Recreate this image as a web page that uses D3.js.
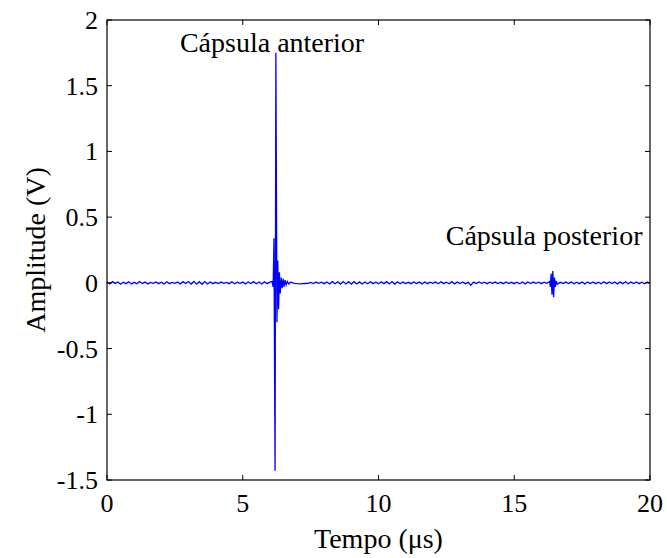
<!DOCTYPE html>
<html>
<head>
<meta charset="utf-8"/>
<script src="https://d3js.org/d3.v7.min.js"></script>
<style type="text/css">
body { margin: 0; background: #fff; }
text { font-family: "Liberation Serif", "Times New Roman", serif; fill: #000; }
.axis-box { fill: none; stroke: #000; stroke-width: 1.2; }
.tick-mark { stroke: #000; stroke-width: 1; }
.signal { fill: none; stroke: #0000ff; stroke-width: 1.3; }
</style>
</head>
<body>
<script>
// chart data
var xTicks = [0, 5, 10, 15, 20];
var xTickLabels = ["0", "5", "10", "15", "20"];
var yTicks = [-1.5, -1, -0.5, 0, 0.5, 1, 1.5, 2];
var yTickLabels = ["-1.5", "-1", "-0.5", "0", "0.5", "1", "1.5", "2"];

// baseline noise, one value every 0.1 us from 0 to 20
var baseStep = 0.1;
var baseNoise = [
  0.006,-0.008,0.009,-0.004,0.007,-0.010,0.005,-0.006,0.008,-0.009,
  0.004,-0.007,0.010,-0.005,0.006,-0.008,0.003,-0.004,0.007,-0.006,
  0.005,-0.009,0.008,-0.006,0.004,-0.003,0.006,-0.008,0.009,-0.005,
  0.010,-0.009,0.011,-0.010,0.009,-0.011,0.010,-0.008,0.007,-0.006,
  0.004,-0.005,0.006,-0.004,0.003,-0.006,0.008,-0.007,0.005,-0.004,
  0.006,-0.008,0.007,-0.005,0.009,-0.007,0.006,-0.009,0.008,-0.006,
  0.005,-0.004,0.004,-0.005,0.006,-0.004,0.005,-0.006,0.004,-0.004,
  -0.006,-0.007,-0.006,-0.005,-0.004,0.003,-0.005,0.006,-0.004,0.005,
  -0.006,0.007,-0.008,0.009,-0.007,0.008,-0.009,0.010,-0.008,0.009,
  -0.010,0.009,-0.008,0.007,-0.009,0.006,-0.007,0.008,-0.006,0.005,
  -0.007,0.008,-0.006,0.009,-0.008,0.010,-0.009,0.008,-0.007,0.006,
  -0.005,0.004,-0.006,0.007,-0.005,0.006,-0.008,0.007,-0.006,0.005,
  -0.004,0.006,-0.007,0.008,-0.006,0.005,-0.007,0.009,-0.008,0.006,
  -0.005,0.007,-0.006,0.004,-0.018,0.006,-0.005,0.007,-0.004,0.005,
  -0.006,0.005,-0.004,0.006,-0.005,0.004,-0.006,0.007,-0.005,0.004,
  -0.006,0.005,-0.007,0.006,-0.008,0.007,-0.005,0.006,-0.004,0.005,
  -0.006,0.005,-0.004,0.003,-0.004,0.005,-0.006,0.004,-0.005,0.006,
  -0.005,0.006,-0.007,0.005,-0.006,0.007,-0.008,0.006,-0.005,0.007,
  -0.006,0.005,-0.007,0.008,-0.006,0.007,-0.005,0.006,-0.008,0.007,
  -0.006,0.008,-0.007,0.006,-0.005,0.007,-0.006,0.005,-0.007,0.006,
  -0.004
];

// anterior capsule echo
var echo1Time = [6.08, 6.12, 6.15, 6.19, 6.22, 6.26, 6.29, 6.32, 6.35, 6.38,
                 6.42, 6.45, 6.49, 6.52, 6.56, 6.60, 6.64, 6.70, 6.75];
var echo1Amp  = [0.01, -0.03, 0.34, -1.43, 1.75, -0.3, 0.17, -0.2, 0.08, -0.08,
                 0.04, -0.04, 0.03, -0.03, 0.02, -0.015, 0.01, -0.01, 0.005];

// posterior capsule echo
var echo2Time = [16.30, 16.33, 16.36, 16.39, 16.42, 16.45, 16.48, 16.51, 16.54, 16.58];
var echo2Amp  = [0.01, -0.03, 0.07, -0.09, 0.09, -0.11, 0.04, -0.03, 0.015, -0.01];

var annotations = [
  {text: "Cápsula anterior", t: 6.08, v: 1.756},
  {text: "Cápsula posterior", t: 16.1, v: 0.288}
];

var width = 667, height = 558;
var margin = {top: 20, right: 17, bottom: 78, left: 107};
var fontSize = 26,
    labelSize = 28;

var x = d3.scaleLinear().domain([0, 20]).range([margin.left, width - margin.right]);
var y = d3.scaleLinear().domain([-1.5, 2]).range([height - margin.bottom, margin.top]);

// build the sample list
var samples = [];
baseNoise.forEach(function(v, i) {
  var t = i * baseStep;
  var inEcho1 = t > 6.05 && t < 6.8;
  var inEcho2 = t > 16.25 && t < 16.62;
  if (!inEcho1 && !inEcho2) samples.push([t, v]);
});
echo1Time.forEach(function(t, i) { samples.push([t, echo1Amp[i]]); });
echo2Time.forEach(function(t, i) { samples.push([t, echo2Amp[i]]); });
samples.sort(function(a, b) { return a[0] - b[0]; });

var svg = d3.select("body").append("svg")
            .attr("width", width)
            .attr("height", height);

var line = d3.line()
             .x(function(d) { return x(d[0]); })
             .y(function(d) { return y(d[1]); });

svg.append("path")
   .datum(samples)
   .attr("class", "signal")
   .attr("d", line);

// box
svg.append("rect")
   .attr("class", "axis-box")
   .attr("x", x(0))
   .attr("y", y(2))
   .attr("width", x(20) - x(0))
   .attr("height", y(-1.5) - y(2));

var tickLen = 5;

// x ticks (bottom + top, inward)
xTicks.forEach(function(t, i) {
  svg.append("line").attr("class", "tick-mark")
     .attr("x1", x(t)).attr("x2", x(t))
     .attr("y1", y(-1.5)).attr("y2", y(-1.5) - tickLen);
  svg.append("line").attr("class", "tick-mark")
     .attr("x1", x(t)).attr("x2", x(t))
     .attr("y1", y(2)).attr("y2", y(2) + tickLen);
  svg.append("text")
     .attr("x", x(t))
     .attr("y", y(-1.5) + 32)
     .attr("text-anchor", "middle")
     .style("font-size", fontSize + "px")
     .text(xTickLabels[i]);
});

// y ticks (left + right, inward)
yTicks.forEach(function(v, i) {
  svg.append("line").attr("class", "tick-mark")
     .attr("x1", x(0)).attr("x2", x(0) + tickLen)
     .attr("y1", y(v)).attr("y2", y(v));
  svg.append("line").attr("class", "tick-mark")
     .attr("x1", x(20)).attr("x2", x(20) - tickLen)
     .attr("y1", y(v)).attr("y2", y(v));
  svg.append("text")
     .attr("x", x(0) - 9)
     .attr("y", y(v) + 9)
     .attr("text-anchor", "end")
     .style("font-size", fontSize + "px")
     .text(yTickLabels[i]);
});

// axis titles
svg.append("text")
   .attr("x", (x(0) + x(20)) / 2)
   .attr("y", 548)
   .attr("text-anchor", "middle")
   .style("font-size", labelSize + "px")
   .text("Tempo (μs)");

svg.append("text")
   .attr("transform", "translate(45," + (y(0.25)) + ") rotate(-90)")
   .attr("text-anchor", "middle")
   .style("font-size", labelSize + "px")
   .text("Amplitude (V)");

// annotations
svg.selectAll(".note")
   .data(annotations)
   .enter()
   .append("text")
   .attr("class", "note")
   .attr("x", function(d) { return x(d.t); })
   .attr("y", function(d) { return y(d.v); })
   .attr("text-anchor", "middle")
   .style("font-size", labelSize + "px")
   .text(function(d) { return d.text; });
</script>
</body>
</html>
